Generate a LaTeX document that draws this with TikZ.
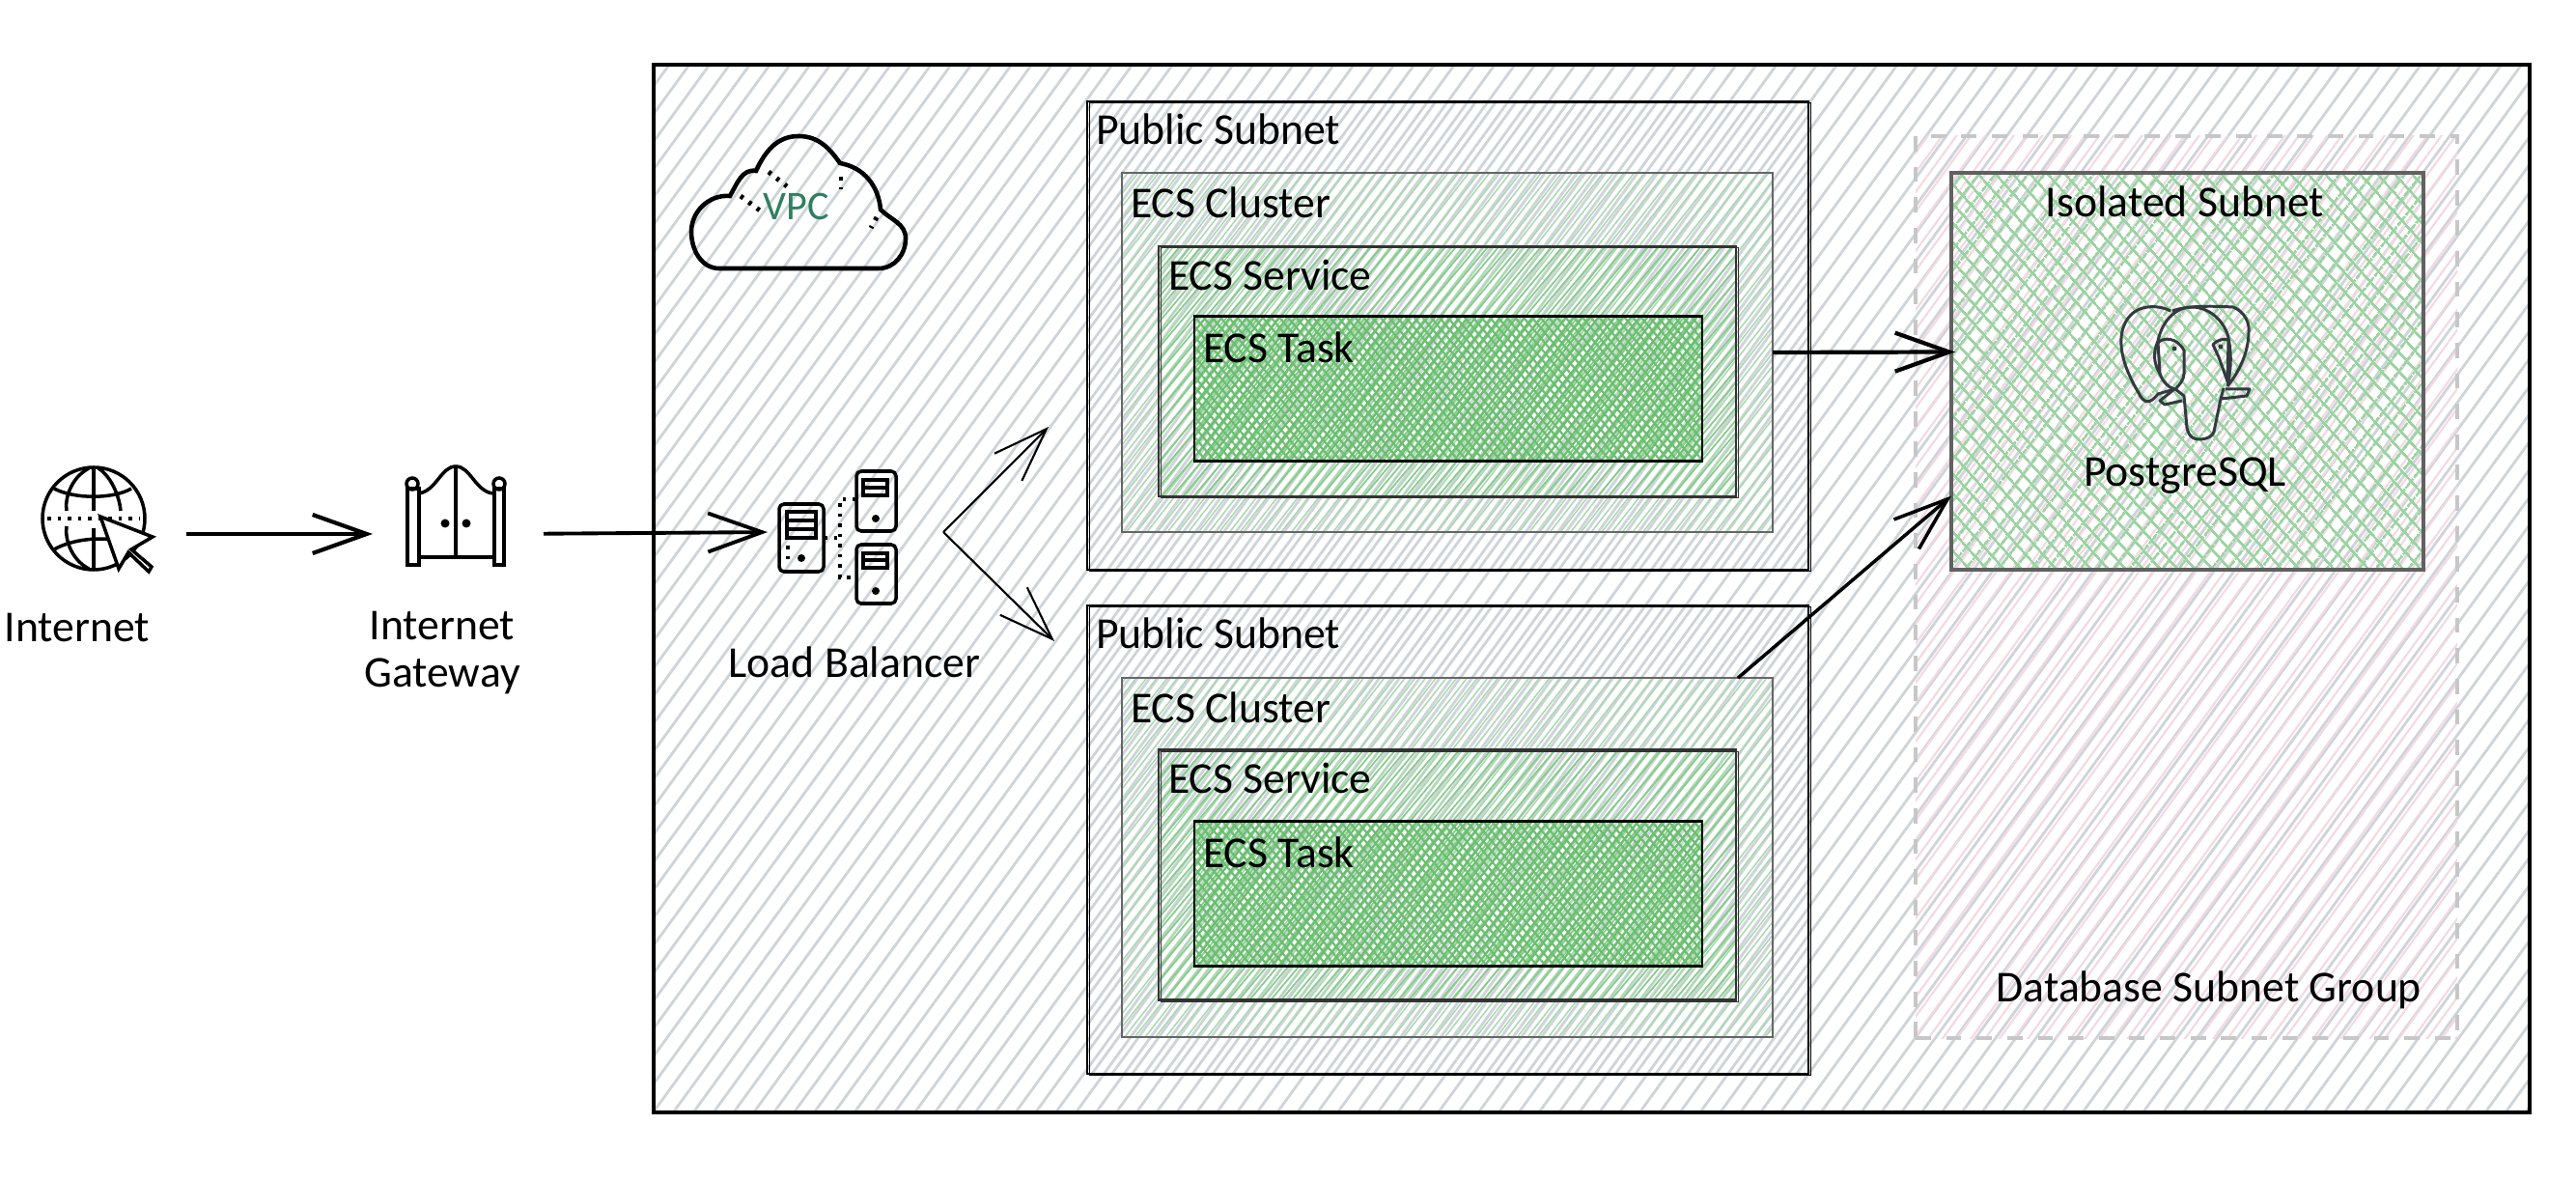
\documentclass[tikz,border=0pt]{standalone}
\usepackage{fontspec}
\setmainfont{Carlito}
\usepackage{xcolor}
\usepackage{tikz}
\usetikzlibrary{arrows.meta,patterns.meta,positioning}

\definecolor{hachgray}{HTML}{CED4DA}
\definecolor{hachpink}{HTML}{F3D9E2}
\definecolor{hachlight}{HTML}{A9DAAE}
\definecolor{hachmid}{HTML}{86CC8B}
\definecolor{hachdark}{HTML}{69BF6E}
\definecolor{hachiso}{HTML}{9AD3A1}
\definecolor{vpcgreen}{HTML}{2E8060}
\definecolor{inkgray}{HTML}{343A40}

\tikzset{
  globeicon/.pic={
    \draw[iconline] (0,0) circle (.53);
    \draw[iconline] (0,.53) -- (0,.08) (0,-.1) -- (0,-.53);
    \draw[iconline] (-.05,.52) .. controls (-.24,.42) and (-.3,.2) .. (-.28,.08);
    \draw[iconline] (-.28,-.08) .. controls (-.3,-.2) and (-.24,-.42) .. (-.05,-.52);
    \draw[iconline] (.05,.52) .. controls (.2,.42) and (.27,.2) .. (.28,.08);
    \draw[iconline] (-.41,.31) .. controls (-.2,.2) and (.2,.2) .. (.39,.31);
    \draw[iconline] (-.41,-.32) .. controls (-.2,-.2) and (.1,-.2) .. (.2,-.22);
    \draw[iconline,dotted,line width=1.4pt] (-.48,0) -- (.48,0);
    \draw[iconline,fill=white] (.07,.02) -- (.61,-.19) -- (.39,-.32) -- (.6,-.5)
      -- (.57,-.55) -- (.36,-.35) -- (.26,-.52) -- cycle;
  },
  gateicon/.pic={
    \draw[iconline] (-.5,.27) rectangle (-.38,-.52);
    \draw[iconline] (.4,.27) rectangle (.5,-.52);
    \draw[iconline] (-.45,.32) circle (.06);
    \draw[iconline] (.45,.32) circle (.06);
    \draw[iconline] (-.38,.22) .. controls (-.2,.25) and (-.15,.5) .. (0,.5)
      .. controls (.15,.5) and (.2,.25) .. (.38,.22);
    \draw[iconline] (0,.5) -- (0,-.42);
    \draw[iconline,line width=1.4pt] (-.38,-.44) -- (.4,-.44);
    \fill (-.11,-.09) circle (.045);
    \fill (.11,-.09) circle (.045);
  },
  lbicon/.pic={
    \draw[iconline,rounded corners=.05cm] (-.6,.34) rectangle (-.14,-.36);
    \draw[iconline] (-.52,.26) rectangle (-.22,-.01);
    \draw[iconline] (-.52,.17) -- (-.22,.17) (-.52,.08) -- (-.22,.08);
    \fill (-.37,-.22) circle (.04);
    \draw[iconline,dotted] (-.51,-.09) -- (-.51,-.24);
    \draw[iconline,rounded corners=.05cm] (.2,.68) rectangle (.61,.06);
    \draw[iconline] (.27,.59) rectangle (.52,.43);
    \draw[iconline] (.27,.51) -- (.52,.51);
    \fill (.4,.19) circle (.04);
    \draw[iconline,rounded corners=.05cm] (.2,-.08) rectangle (.61,-.69);
    \draw[iconline] (.27,-.17) rectangle (.52,-.32);
    \draw[iconline] (.27,-.24) -- (.52,-.24);
    \fill (.4,-.56) circle (.04);
    \draw[iconline,dotted] (-.14,-.01) -- (.03,-.01);
    \draw[iconline,dotted] (.2,.39) -- (.03,.39) -- (.03,-.42) -- (.2,-.42);
  },
  cloudicon/.pic={
    \draw[iconline,line width=1.3pt] (-.82,-.68) -- (.83,-.68)
      to[out=0,in=-90] (1.11,-.37) to[out=90,in=-45] (.85,-.07)
      to[out=95,in=-10] (.43,.41) to[out=125,in=0] (0,.69)
      to[out=180,in=65] (-.44,.33) to[out=170,in=60] (-.71,.07)
      to[out=175,in=90] (-1.11,-.3) to[out=-90,in=180] cycle;
    \draw[iconline,dotted,line width=1.4pt] (-.6,.07) -- (-.4,-.08);
    \draw[iconline,dotted,line width=1.4pt] (-.31,.32) -- (-.12,.17);
    \draw[iconline,dotted,line width=1.4pt] (.44,.27) -- (.44,.14);
    \draw[iconline,dotted,line width=1.4pt] (.81,-.15) -- (.75,-.26);
  },
  pgicon/.pic={
    \draw[pgline] (-.17,.63) .. controls (-.3,.7) and (-.6,.72) .. (-.67,.42)
      .. controls (-.72,.2) and (-.6,-.05) .. (-.5,-.22)
      .. controls (-.45,-.33) and (-.38,-.34) .. (-.3,-.23) -- (-.13,-.18);
    \draw[pgline] (-.28,-.02) .. controls (-.35,.1) and (-.35,.2) .. (-.3,.32)
      .. controls (-.25,.55) and (-.1,.67) .. (.05,.67)
      .. controls (.25,.67) and (.4,.5) .. (.43,.35) .. controls (.47,.15) and (.45,0) .. (.42,-.15);
    \draw[pgline] (-.15,.63) .. controls (0,.69) and (.3,.68) .. (.48,.67)
      .. controls (.6,.62) and (.65,.5) .. (.64,.42)
      .. controls (.64,.25) and (.58,.05) .. (.42,-.15);
    \draw[pgline] (-.3,.3) .. controls (-.25,.36) and (-.1,.36) .. (-.03,.22)
      -- (-.03,-.02) .. controls (-.03,-.08) and (-.08,-.14) .. (-.12,-.18)
      -- (-.03,-.25) -- (0,-.58) .. controls (.02,-.68) and (.08,-.7) .. (.12,-.7)
      .. controls (.22,-.7) and (.27,-.66) .. (.28,-.62) -- (.35,-.28) -- (.38,-.17);
    \draw[pgline] (-.3,.3) -- (-.28,-.02) .. controls (-.25,-.1) and (-.2,-.16) .. (-.13,-.18);
    \draw[pgline] (.27,.28) .. controls (.3,.33) and (.4,.35) .. (.43,.33) -- (.42,-.1)
      -- (.33,.15) -- cycle;
    \draw[pgline] (-.13,-.18) -- (-.28,-.3) -- (-.23,-.34) -- (-.05,-.3);
    \draw[pgline] (.4,-.18) -- (.65,-.18) -- (.62,-.25) -- (.35,-.28);
    \fill[inkgray] (-.13,.24) circle (.025) (.35,.26) circle (.025);
  }
}

\begin{document}
\begin{tikzpicture}[
  >={Straight Barb[length=.56cm,width=.4cm]},
  iconline/.style={draw=black,line width=1pt},
  pgline/.style={draw=inkgray,line width=.85pt,line join=round},
  iconspot/.style={inner sep=0,outer sep=0},
  rough/.style={postaction={draw,line width=.3pt,transform canvas={shift={(.6pt,-.5pt)}}}},
  vpcbox/.style={draw,line width=1.35pt,inner sep=0,outer sep=0,minimum width=19.43cm,minimum height=10.85cm,
                 pattern={Lines[angle=54,distance=4.8pt,line width=.8pt]},pattern color=hachgray},
  pubbox/.style={draw,line width=.55pt,rough,inner sep=0,outer sep=0,minimum width=7.47cm,minimum height=4.85cm,
                 pattern={Lines[angle=54,distance=4.8pt,line width=.8pt,xshift=2.4pt]},pattern color=hachgray},
  clusterbox/.style={draw=black!60,line width=.8pt,inner sep=0,outer sep=0,minimum width=6.74cm,minimum height=3.72cm,
                 pattern={Lines[angle=52,distance=2.4pt,line width=.44pt]},pattern color=hachlight},
  servicebox/.style={draw=black!80,line width=.65pt,rough,inner sep=0,outer sep=0,minimum width=5.98cm,minimum height=2.59cm,
                 pattern={Lines[angle=50,distance=2.4pt,line width=.5pt,xshift=1pt]},pattern color=hachmid},
  taskbox/.style={draw,line width=.75pt,inner sep=0,outer sep=0,minimum width=5.26cm,minimum height=1.5cm,
                 preaction={pattern={Lines[angle=52,distance=1.9pt,line width=.62pt]},pattern color=hachdark},
                 pattern={Lines[angle=-50,distance=1.9pt,line width=.62pt]},pattern color=hachdark},
  groupbox/.style={draw=black!22,line width=1pt,dash pattern=on 4.5pt off 4.5pt,inner sep=0,outer sep=0,
                 minimum width=5.61cm,minimum height=9.34cm,
                 pattern={Lines[angle=54,distance=3.4pt,line width=.6pt]},pattern color=hachpink},
  isobox/.style={draw=black!62,line width=1.3pt,inner sep=0,outer sep=0,minimum width=4.89cm,minimum height=4.11cm,
                 preaction={pattern={Lines[angle=52,distance=4pt,line width=.85pt]},pattern color=hachiso},
                 pattern={Lines[angle=-48,distance=4pt,line width=.85pt]},pattern color=hachiso},
  boxlabel/.style={inner sep=0,outer sep=0,font=\fontsize{13}{15}\selectfont},
  iconlabel/.style={inner sep=0,outer sep=0,align=center,font=\fontsize{13}{13.8}\selectfont}
]
 \useasboundingbox (0,0) rectangle (26.68,-12.22);

 % containers
 \node[vpcbox] (vpc) at (16.485,-6.095) {};
 \node[groupbox] (dbgroup) at (22.645,-6.08) {};
 \node[isobox] (iso) at (22.655,-3.845) {};
 \node[pubbox] (pub1) at (14.995,-3.475) {};
 \node[clusterbox] (cluster1) at (14.99,-3.65) {};
 \node[servicebox] (service1) at (14.99,-3.845) {};
 \node[taskbox] (task1) at (15,-4.025) {};
 \node[pubbox] (pub2) at (14.995,-8.695) {};
 \node[clusterbox] (cluster2) at (14.99,-8.88) {};
 \node[servicebox] (service2) at (14.99,-9.06) {};
 \node[taskbox] (task2) at (15,-9.255) {};

 % box titles
 \node[boxlabel,below right=.13cm and .09cm of pub1.north west] (pub1title) {Public Subnet};
 \node[boxlabel,below right=.15cm and .09cm of cluster1.north west] (cluster1title) {ECS Cluster};
 \node[boxlabel,below right=.14cm and .1cm of service1.north west] (service1title) {ECS Service};
 \node[boxlabel,below right=.16cm and .09cm of task1.north west] (task1title) {ECS Task};
 \node[boxlabel,below right=.13cm and .09cm of pub2.north west] (pub2title) {Public Subnet};
 \node[boxlabel,below right=.15cm and .09cm of cluster2.north west] (cluster2title) {ECS Cluster};
 \node[boxlabel,below right=.14cm and .1cm of service2.north west] (service2title) {ECS Service};
 \node[boxlabel,below right=.16cm and .09cm of task2.north west] (task2title) {ECS Task};
 \node[boxlabel] (isotitle) at (22.63,-2.09) {Isolated Subnet};
 \node[boxlabel] (pglabel) at (22.63,-4.93) {PostgreSQL};
 \node[boxlabel,above left=.3cm and .37cm of dbgroup.south east] (grouptitle) {Database Subnet Group};

 % icons
 \node[iconspot,minimum width=1.06cm,minimum height=1.06cm] (globe) at (.97,-5.37) {};
 \pic at (globe) {globeicon};
 \node[iconspot,minimum width=1.02cm,minimum height=1.05cm] (gate) at (4.72,-5.33) {};
 \pic at (gate) {gateicon};
 \node[iconspot,minimum width=1.22cm,minimum height=1.38cm] (lb) at (8.67,-5.56) {};
 \pic at (lb) {lbicon};
 \node[iconspot,minimum width=2.22cm,minimum height=1.38cm] (cloud) at (8.27,-2.1) {};
 \pic at (cloud) {cloudicon};
 \node[iconspot,minimum width=1.3cm,minimum height=1.4cm] (pg) at (22.65,-3.85) {};
 \pic at (pg) {pgicon};
 \node[inner sep=0,text=vpcgreen,font=\fontsize{12}{14}\selectfont] (vpclabel) at (8.25,-2.14) {VPC};

 % icon captions
 \node[iconlabel] (inetlabel) at (.8,-6.5) {Internet};
 \node[iconlabel] (gatelabel) at (4.58,-6.76) {Internet\\Gateway};
 \node[iconlabel] (lblabel) at (8.85,-6.86) {Load Balancer};

 % connectors
 \coordinate (fork) at (9.77,-5.51);
 \coordinate (forkup) at (10.86,-4.42);
 \coordinate (forkdown) at (10.92,-6.64);
 \draw[->,line width=1.2pt,shorten <=.43cm,shorten >=.35cm] ([yshift=-.16cm]globe.east) -- ([yshift=-.2cm]gate.west);
 \draw[->,line width=1.1pt,shorten <=.4cm,shorten >=.11cm] ([yshift=-.2cm]gate.east) -- ([yshift=.05cm]lb.west);
 \draw[->,line width=.6pt] (fork) -- (forkup);
 \draw[->,line width=.6pt] (fork) -- (forkdown);
 \draw[->,line width=1.2pt,shorten >=-.04cm] (cluster1.east) -- ([yshift=.2cm]iso.west);
 \draw[->,line width=1pt] ([xshift=3.01cm]cluster2.north) -- ([yshift=-1.29cm]iso.west);
\end{tikzpicture}
\end{document}
